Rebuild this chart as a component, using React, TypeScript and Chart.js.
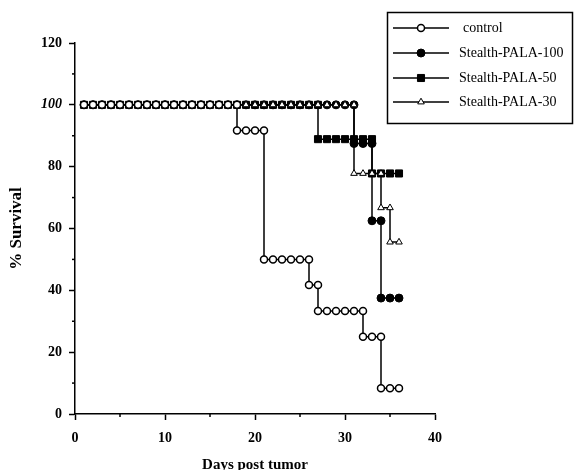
import React, { useEffect, useRef } from 'react';
import { Chart, registerables } from 'chart.js';

Chart.register(...registerables);

const seriesNames = ['control', 'Stealth-PALA-100', 'Stealth-PALA-50', 'Stealth-PALA-30'];

const controlDays = [1, 2, 3, 4, 5, 6, 7, 8, 9, 10, 11, 12, 13, 14, 15, 16, 17, 18, 18, 19, 20, 21, 21, 22, 23, 24, 25, 26, 26, 27, 27, 28, 29, 30, 31, 32, 32, 33, 34, 34, 35, 36];
const controlSurvival = [100, 100, 100, 100, 100, 100, 100, 100, 100, 100, 100, 100, 100, 100, 100, 100, 100, 100, 91.7, 91.7, 91.7, 91.7, 50, 50, 50, 50, 50, 50, 41.7, 41.7, 33.3, 33.3, 33.3, 33.3, 33.3, 33.3, 25, 25, 25, 8.3, 8.3, 8.3];

const pala100Days = [1, 2, 3, 4, 5, 6, 7, 8, 9, 10, 11, 12, 13, 14, 15, 16, 17, 18, 19, 20, 21, 22, 23, 24, 25, 26, 27, 28, 29, 30, 31, 31, 32, 33, 33, 34, 34, 35, 36];
const pala100Survival = [100, 100, 100, 100, 100, 100, 100, 100, 100, 100, 100, 100, 100, 100, 100, 100, 100, 100, 100, 100, 100, 100, 100, 100, 100, 100, 100, 100, 100, 100, 100, 87.5, 87.5, 87.5, 62.5, 62.5, 37.5, 37.5, 37.5];

const pala50Days = [1, 2, 3, 4, 5, 6, 7, 8, 9, 10, 11, 12, 13, 14, 15, 16, 17, 18, 19, 20, 21, 22, 23, 24, 25, 26, 27, 27, 28, 29, 30, 31, 32, 33, 33, 34, 35, 36];
const pala50Survival = [100, 100, 100, 100, 100, 100, 100, 100, 100, 100, 100, 100, 100, 100, 100, 100, 100, 100, 100, 100, 100, 100, 100, 100, 100, 100, 100, 88.9, 88.9, 88.9, 88.9, 88.9, 88.9, 88.9, 77.8, 77.8, 77.8, 77.8];

const pala30Days = [1, 2, 3, 4, 5, 6, 7, 8, 9, 10, 11, 12, 13, 14, 15, 16, 17, 18, 19, 20, 21, 22, 23, 24, 25, 26, 27, 28, 29, 30, 31, 31, 32, 33, 34, 34, 35, 35, 36];
const pala30Survival = [100, 100, 100, 100, 100, 100, 100, 100, 100, 100, 100, 100, 100, 100, 100, 100, 100, 100, 100, 100, 100, 100, 100, 100, 100, 100, 100, 100, 100, 100, 100, 77.8, 77.8, 77.8, 77.8, 66.7, 66.7, 55.6, 55.6];

const xTicks = [0, 10, 20, 30, 40];
const xMinorTicks = [5, 15, 25, 35];
const yTicks = [0, 20, 40, 60, 80, 100, 120];
const yMinorTicks = [10, 30, 50, 70, 90, 110];

const SERIF = '"Liberation Serif", "DejaVu Serif", serif';

type Marker = { style: string; radius: number; fill: string; borderWidth: number };
const markers: Marker[] = [
  { style: 'circle', radius: 3.5, fill: '#ffffff', borderWidth: 1.5 },
  { style: 'circle', radius: 4, fill: '#000000', borderWidth: 1 },
  { style: 'rect', radius: 5, fill: '#000000', borderWidth: 1 },
  { style: 'triangle', radius: 3.8, fill: '#ffffff', borderWidth: 1 },
];
// drawing priority (lower = on top)
const drawOrder = [0, 2, 3, 1];

function drawMarker(ctx: CanvasRenderingContext2D, m: Marker, x: number, y: number) {
  ctx.save();
  ctx.fillStyle = m.fill;
  ctx.strokeStyle = '#000';
  ctx.lineWidth = m.borderWidth;
  ctx.beginPath();
  if (m.style === 'circle') {
    ctx.arc(x, y, m.radius, 0, Math.PI * 2);
  } else if (m.style === 'rect') {
    const s = m.radius * Math.SQRT1_2;
    ctx.rect(x - s, y - s, 2 * s, 2 * s);
  } else {
    const r = m.radius;
    ctx.moveTo(x, y - r);
    ctx.lineTo(x + r * 0.866, y + r * 0.5);
    ctx.lineTo(x - r * 0.866, y + r * 0.5);
    ctx.closePath();
  }
  ctx.fill();
  ctx.stroke();
  ctx.restore();
}

const extrasPlugin = {
  id: 'extras',
  afterDraw(chart: any) {
    const ctx: CanvasRenderingContext2D = chart.ctx;
    const xs = chart.scales.x;
    const ys = chart.scales.y;
    const area = chart.chartArea;
    ctx.save();
    ctx.strokeStyle = '#000';
    ctx.lineWidth = 1.5;
    for (const v of yMinorTicks) {
      const py = ys.getPixelForValue(v);
      ctx.beginPath();
      ctx.moveTo(area.left - 3, py);
      ctx.lineTo(area.left, py);
      ctx.stroke();
    }
    for (const v of xMinorTicks) {
      const px = xs.getPixelForValue(v);
      ctx.beginPath();
      ctx.moveTo(px, area.bottom);
      ctx.lineTo(px, area.bottom + 3);
      ctx.stroke();
    }
    const bx = 387.5, by = 12.5, bw = 185, bh = 111;
    ctx.lineWidth = 1.5;
    ctx.strokeRect(bx, by, bw, bh);
    const rows = [28, 53, 78, 102];
    ctx.font = `14px ${SERIF}`;
    ctx.fillStyle = '#000';
    ctx.textBaseline = 'middle';
    ctx.textAlign = 'left';
    seriesNames.forEach((name, i) => {
      const y = rows[i];
      ctx.lineWidth = 1.5;
      ctx.beginPath();
      ctx.moveTo(393, y);
      ctx.lineTo(449, y);
      ctx.stroke();
      drawMarker(ctx, markers[i], 421, y);
      ctx.fillText(name, i === 0 ? 463 : 459, y);
    });
    ctx.restore();
  },
};

const allDays = [controlDays, pala100Days, pala50Days, pala30Days];
const allSurvival = [controlSurvival, pala100Survival, pala50Survival, pala30Survival];

export default function App() {
  const ref = useRef<HTMLCanvasElement>(null);
  useEffect(() => {
    const canvas = ref.current;
    if (!canvas) return;
    const datasets = seriesNames.map((name, i) => ({
      label: name,
      data: allDays[i].map((d, j) => ({ x: d, y: allSurvival[i][j] })),
      order: drawOrder[i],
      borderColor: '#000',
      borderWidth: 1.5,
      backgroundColor: markers[i].fill,
      pointStyle: markers[i].style,
      pointRadius: markers[i].radius,
      pointBorderWidth: markers[i].borderWidth,
      pointBorderColor: '#000',
      pointBackgroundColor: markers[i].fill,
      fill: false,
      tension: 0,
    }));
    const chart = new Chart(canvas, {
      type: 'line',
      data: { datasets },
      plugins: [extrasPlugin],
      options: {
        animation: false,
        responsive: false,
        layout: { padding: { top: 43, right: 139, left: 0, bottom: 0 } },
        plugins: { legend: { display: false }, tooltip: { enabled: false } },
        scales: {
          x: {
            type: 'linear',
            min: 0,
            max: 40,
            afterBuildTicks: (s: any) => { s.ticks = xTicks.map((v) => ({ value: v })); },
            afterFit: (s: any) => { s.height = 56; },
            grid: { drawOnChartArea: false, color: '#000', tickLength: 6, tickWidth: 1.5 },
            border: { color: '#000', width: 1.5 },
            ticks: { color: '#000', padding: 10, maxRotation: 0, font: { family: SERIF, size: 14, weight: 'bold' } },
            title: { display: true, text: 'Days post tumor', color: '#000', padding: { top: 0, bottom: -3 }, font: { family: SERIF, size: 15, weight: 'bold', lineHeight: 1 } },
          },
          y: {
            type: 'linear',
            min: 0,
            max: 120,
            afterBuildTicks: (s: any) => { s.ticks = yTicks.map((v) => ({ value: v })); },
            afterFit: (s: any) => { s.width = 75; },
            grid: { drawOnChartArea: false, color: '#000', tickLength: 6, tickWidth: 1.5 },
            border: { color: '#000', width: 1.5 },
            ticks: {
              color: '#000',
              padding: 7,
              font: (c: any) => ({ family: SERIF, size: 14, weight: 'bold', style: c.tick && c.tick.value === 100 ? 'italic' : 'normal' }),
            },
            title: { display: true, text: '% Survival', color: '#000', padding: { top: 8, bottom: 0 }, font: { family: SERIF, size: 17, weight: 'bold', lineHeight: 1 } },
          },
        },
      },
    });
    return () => chart.destroy();
  }, []);
  return (
    <div style={{ position: 'fixed', left: 0, top: 0, width: 574, height: 470, background: '#fff' }}>
      <canvas ref={ref} width={574} height={470} style={{ display: 'block' }} />
    </div>
  );
}
